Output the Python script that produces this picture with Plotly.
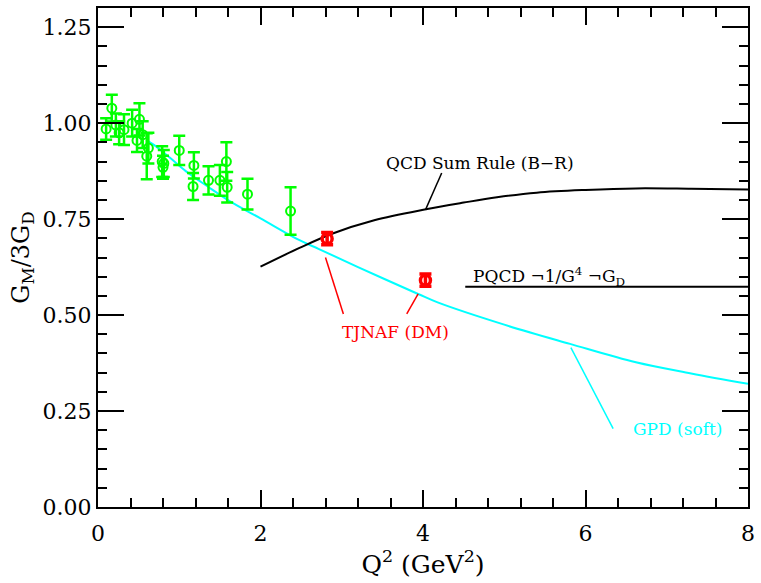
import plotly.graph_objects as go

# ---- data ----
old_q2 = [0.10, 0.17, 0.22, 0.26, 0.32, 0.42, 0.51, 0.48, 0.55, 0.62, 0.60, 0.79, 0.80, 0.81, 1.00, 1.18, 1.17, 1.36, 1.50, 1.58, 1.59, 1.84, 2.37]
old_g = [0.985, 1.039, 0.995, 0.975, 0.983, 1.000, 1.010, 0.955, 0.970, 0.935, 0.914, 0.900, 0.885, 0.895, 0.929, 0.890, 0.835, 0.851, 0.851, 0.900, 0.833, 0.815, 0.771]
old_err = [0.028, 0.035, 0.030, 0.030, 0.040, 0.035, 0.042, 0.030, 0.035, 0.040, 0.060, 0.040, 0.030, 0.035, 0.038, 0.034, 0.035, 0.037, 0.040, 0.050, 0.040, 0.040, 0.062]

jlab_q2 = [2.82, 4.03]
jlab_g = [0.699, 0.591]
jlab_err = [0.016, 0.016]

gpd_q2 = [0.60, 0.71, 0.89, 1.08, 1.35, 1.62, 2.00, 2.48, 2.72, 3.20, 3.94, 4.18, 5.00, 5.81, 6.62, 7.30, 8.00]
gpd_g = [0.955, 0.940, 0.909, 0.875, 0.835, 0.797, 0.752, 0.695, 0.672, 0.625, 0.555, 0.533, 0.475, 0.425, 0.377, 0.348, 0.321]

qcdsr_q2 = [2.00, 2.48, 2.88, 3.40, 4.02, 4.50, 4.91, 5.40, 6.00, 6.62, 7.30, 8.00]
qcdsr_g = [0.626, 0.675, 0.712, 0.747, 0.775, 0.793, 0.807, 0.819, 0.826, 0.830, 0.829, 0.827]

pqcd_q2 = [4.52, 8.00]
pqcd_g = [0.574, 0.574]

# pointer lines for labels: (x0, y0, x1, y1, color)
pointers = [
    (4.23, 0.870, 4.03, 0.774, "black"),
    (2.80, 0.650, 3.02, 0.503, "red"),
    (3.94, 0.555, 3.80, 0.503, "red"),
    (5.82, 0.415, 6.34, 0.204, "cyan"),
]
# labels: (x, y, text, color)
labels = [
    (4.70, 0.895, "QCD Sum Rule (B\u2212R)", "black"),
    (5.55, 0.600, "PQCD \u00ac1/G<sup>4</sup> \u00acG<sub>D</sub>", "black"),
    (3.66, 0.457, "TJNAF (DM)", "red"),
    (7.13, 0.202, "GPD (soft)", "cyan"),
]

x_ticks = [0, 2, 4, 6, 8]
y_ticks = [0.0, 0.25, 0.5, 0.75, 1.0, 1.25]

COLORS = {"black": "black", "red": "#ff0000", "cyan": "#00ffff"}
FONT = "DejaVu Serif"

fig = go.Figure()

fig.add_trace(go.Scatter(x=gpd_q2, y=gpd_g, mode="lines", line_shape="spline",
                         line=dict(color="#00ffff", width=2), showlegend=False))
fig.add_trace(go.Scatter(x=qcdsr_q2, y=qcdsr_g, mode="lines", line_shape="spline",
                         line=dict(color="black", width=2), showlegend=False))
fig.add_trace(go.Scatter(x=pqcd_q2, y=pqcd_g, mode="lines",
                         line=dict(color="black", width=2), showlegend=False))

fig.add_trace(go.Scatter(x=old_q2, y=old_g, mode="markers",
                         marker=dict(symbol="circle-open", size=9, color="#00ff00",
                                     line=dict(width=2, color="#00ff00")),
                         error_y=dict(type="data", array=old_err, color="#00ff00",
                                      thickness=2.5, width=6),
                         showlegend=False))
fig.add_trace(go.Scatter(x=jlab_q2, y=jlab_g, mode="markers",
                         marker=dict(symbol="circle-open", size=10, color="#ff0000",
                                     line=dict(width=3.5, color="#ff0000")),
                         error_y=dict(type="data", array=jlab_err, color="#ff0000",
                                      thickness=3.5, width=6),
                         showlegend=False))

for x0, y0, x1, y1, c in pointers:
    fig.add_shape(type="line", x0=x0, y0=y0, x1=x1, y1=y1,
                  line=dict(color=COLORS[c], width=1.5))

for x, y, t, c in labels:
    fig.add_annotation(x=x, y=y, text=t, showarrow=False,
                       font=dict(family=FONT, size=17, color=COLORS[c]))

axis_common = dict(showline=True, linecolor="black", linewidth=2, mirror="allticks",
                   ticks="inside", tickcolor="black", showgrid=False, zeroline=False,
                   tickfont=dict(family=FONT, size=22, color="black"))

fig.update_xaxes(range=[0, 8], tickvals=x_ticks, ticktext=[str(v) for v in x_ticks],
                 ticklen=17, tickwidth=1.5, ticklabelstandoff=6,
                 minor=dict(dtick=0.4, tick0=0, ticks="inside", ticklen=9, tickcolor="black", tickwidth=1.5, showgrid=False),
                 title=dict(text="Q<sup>2</sup> (GeV<sup>2</sup>)", standoff=10,
                            font=dict(family=FONT, size=25, color="black")),
                 **axis_common)
fig.update_yaxes(range=[0, 1.3], tickvals=y_ticks, ticktext=["%.2f" % v for v in y_ticks],
                 ticklen=26, tickwidth=1.5,
                 minor=dict(dtick=0.05, tick0=0, ticks="inside", ticklen=9, tickcolor="black", tickwidth=1.5, showgrid=False),
                 title=dict(text="G<sub>M</sub>/3G<sub>D</sub>", standoff=6,
                            font=dict(family=FONT, size=24, color="black")),
                 **axis_common)

fig.update_layout(width=761, height=583, margin=dict(l=98, r=6, t=6, b=76),
                  plot_bgcolor="white", paper_bgcolor="white")

fig.write_html("out.html")
